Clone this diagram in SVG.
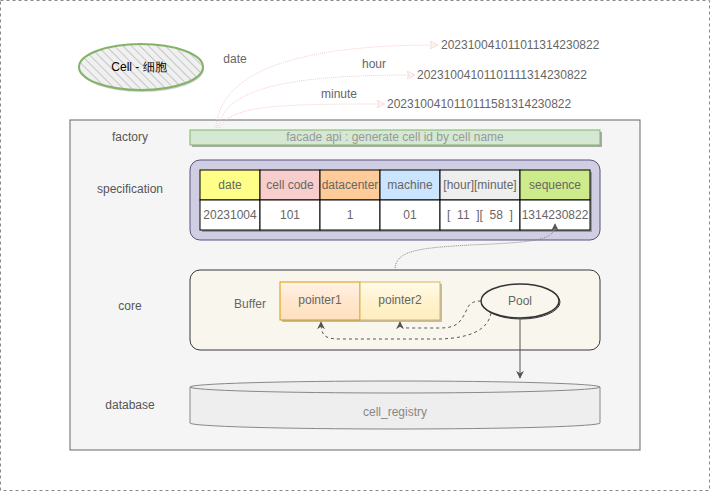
<svg xmlns="http://www.w3.org/2000/svg" width="711" height="492" viewBox="0 0 711 492">
<style>
text{font-family:"Liberation Sans",Arial,sans-serif;font-size:12px;fill:#666;}
.c{text-anchor:middle;}
.lbl{text-anchor:middle;fill:#555;}
.hdr{stroke:#000;stroke-width:1;}
.pink{fill:none;stroke:#f8cecc;stroke-width:1;stroke-dasharray:1 1;}
.dash{fill:none;stroke:#555;stroke-dasharray:3 3;}
</style>
<defs>
<pattern id="hatch" width="6" height="6" patternUnits="userSpaceOnUse" patternTransform="rotate(-45)">
<rect width="6" height="6" fill="#f0f0f0"/>
<line x1="0" y1="0" x2="0" y2="6" stroke="#b8b8b8" stroke-width="1.5"/>
</pattern>
<linearGradient id="g1" x1="0" y1="0" x2="0" y2="1"><stop offset="0" stop-color="#fff3e6"/><stop offset="0.5" stop-color="#ffe6cc"/><stop offset="1" stop-color="#ffe0bf"/></linearGradient>
<linearGradient id="g2" x1="0" y1="0" x2="0" y2="1"><stop offset="0" stop-color="#fffaeb"/><stop offset="0.5" stop-color="#fff2cc"/><stop offset="1" stop-color="#ffedbf"/></linearGradient>
<marker id="pa" viewBox="0 0 10 10" refX="9" refY="5" markerWidth="8" markerHeight="8" orient="auto" markerUnits="userSpaceOnUse"><path d="M0,0 L10,5 L0,10 L3,5 Z" fill="none" stroke="#f8cecc"/></marker>
<marker id="ga" viewBox="0 0 10 10" refX="9" refY="5" markerWidth="8" markerHeight="8" orient="auto" markerUnits="userSpaceOnUse"><path d="M0,0 L10,5 L0,10 L3,5 Z" fill="#555"/></marker>
</defs>
<rect x="0.5" y="0.5" width="709" height="490" fill="#fff" stroke="#888" stroke-dasharray="3 3"/>

<g id="cell">
<ellipse cx="142" cy="69" rx="62" ry="23" fill="#999" opacity="0.5"/>
<ellipse cx="141" cy="67" rx="62" ry="23" fill="url(#hatch)" stroke="#82b366" stroke-width="2"/>
<text x="139" y="71" class="c" style="fill:#000">Cell - 细胞</text>
</g>

<g id="container">
<rect x="70" y="120" width="570" height="330" fill="#f5f5f5" stroke="#666"/>
<text x="130" y="141" class="lbl">factory</text>
<text x="130" y="193" class="lbl">specification</text>
<text x="130" y="310" class="lbl">core</text>
<text x="130" y="409" class="lbl">database</text>
</g>

<g id="date-label"><text x="235" y="63" class="c">date</text></g>
<g id="hour-label"><text x="374" y="68" class="c">hour</text></g>
<g id="minute-label"><text x="339" y="98" class="c">minute</text></g>
<g id="id1"><text x="441" y="49">202310041011011314230822</text></g>
<g id="id2"><text x="417" y="79">20231004101101111314230822</text></g>
<g id="id3"><text x="387" y="108">2023100410110111581314230822</text></g>

<g id="facade">
<rect x="192" y="132" width="410" height="15" fill="#aaa"/>
<rect x="190" y="130" width="410" height="15" fill="#d5e8d4" stroke="#82b366"/>
<text x="395" y="141" class="c" style="fill:#999">facade api : generate cell id by cell name</text>
</g>

<g id="specification">
<rect x="190" y="160" width="410" height="80" rx="10" fill="#d0cee2" stroke="#56517e"/>
<rect x="202" y="172" width="390" height="60" fill="#999"/>
<rect x="200" y="170" width="60" height="30" fill="#ffff88" class="hdr"/>
<rect x="260" y="170" width="60" height="30" fill="#f8cecc" class="hdr"/>
<rect x="320" y="170" width="60" height="30" fill="#ffcc99" class="hdr"/>
<rect x="380" y="170" width="60" height="30" fill="#cce5ff" class="hdr"/>
<rect x="440" y="170" width="80" height="30" fill="#eeeeee" class="hdr"/>
<rect x="520" y="170" width="70" height="30" fill="#cdeb8b" class="hdr"/>
<rect x="200" y="200" width="60" height="30" fill="#fff" class="hdr"/>
<rect x="260" y="200" width="60" height="30" fill="#fff" class="hdr"/>
<rect x="320" y="200" width="60" height="30" fill="#fff" class="hdr"/>
<rect x="380" y="200" width="60" height="30" fill="#fff" class="hdr"/>
<rect x="440" y="200" width="80" height="30" fill="#fff" class="hdr"/>
<rect x="520" y="200" width="70" height="30" fill="#fff" class="hdr"/>
<text x="230" y="189" class="c">date</text>
<text x="290" y="189" class="c">cell code</text>
<text x="350" y="189" class="c">datacenter</text>
<text x="410" y="189" class="c">machine</text>
<text x="480" y="189" class="c">[hour][minute]</text>
<text x="555" y="189" class="c">sequence</text>
<text x="230" y="219" class="c">20231004</text>
<text x="290" y="219" class="c">101</text>
<text x="350" y="219" class="c">1</text>
<text x="410" y="219" class="c">01</text>
<text x="480" y="219" class="c" style="white-space:pre" xml:space="preserve">[  11  ][  58  ]</text>
<text x="555" y="219" class="c">1314230822</text>
</g>

<g id="core">
<rect x="190" y="270" width="410" height="80" rx="10" fill="#f9f7ed" stroke="#36393d"/>
<text x="250" y="308" class="c">Buffer</text>
</g>
<g id="pointer1">
<rect x="282" y="284" width="80" height="38" fill="#bbb"/>
<rect x="280" y="282" width="80" height="38" fill="url(#g1)" stroke="#d79b00"/>
<text x="320" y="304" class="c">pointer1</text>
</g>
<g id="pointer2">
<rect x="362" y="284" width="80" height="38" fill="#bbb"/>
<rect x="360" y="282" width="80" height="38" fill="url(#g2)" stroke="#d6b656"/>
<text x="400" y="304" class="c">pointer2</text>
</g>
<g id="pool">
<ellipse cx="521" cy="302" rx="39" ry="17" fill="none" stroke="#333" stroke-width="1"/>
<ellipse cx="520" cy="301" rx="39" ry="17" fill="#f9f7ed" stroke="#333" stroke-width="1.5"/>
<text x="520" y="305" class="c">Pool</text>
</g>

<g id="cell_registry">
<path d="M190,387 L190,423 A205,6 0 0 0 600,423 L600,387" fill="#eeeeee" stroke="#888"/>
<ellipse cx="395" cy="387" rx="205" ry="6" fill="#eeeeee" stroke="#888"/>
<text x="395" y="416" class="c" style="fill:#888">cell_registry</text>
</g>

<g id="connectors">
<path d="M216,128 C220,70 300,45 437,45" class="pink" marker-end="url(#pa)"/>
<path d="M218,128 C225,90 280,75 414,75" class="pink" marker-end="url(#pa)"/>
<path d="M220,128 C230,105 280,104 384,104" class="pink" marker-end="url(#pa)"/>
<path d="M395,270 C395,250 420,248 470,245 C540,242 555,240 555,224" fill="none" stroke="#888" stroke-dasharray="1 1" marker-end="url(#ga)"/>
<path d="M481,301 C465,301 468,312 462,318 C458,326 450,328 440,328 L410,328 C402,328 400,327 400,322" class="dash" marker-end="url(#ga)"/>
<path d="M491,313 C488,330 470,338 440,339 L340,339 C325,339 321,336 321,322" class="dash" marker-end="url(#ga)"/>
<line x1="520" y1="318" x2="520" y2="378" stroke="#555" marker-end="url(#ga)"/>
</g>
</svg>
